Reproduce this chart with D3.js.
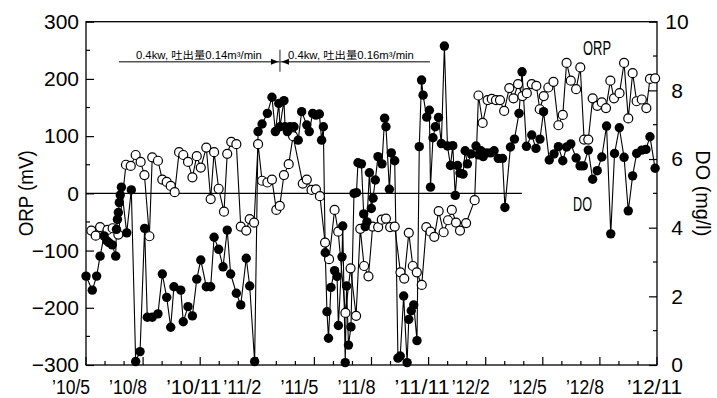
<!DOCTYPE html>
<html><head><meta charset="utf-8">
<script src="https://cdn.jsdelivr.net/npm/d3@7/dist/d3.min.js"></script>
<style>body{margin:0;background:#fff}svg{display:block}</style>
</head><body><svg id="c" width="717" height="398"></svg>
<script>
// ---------- data ----------
const xTickMonths = d3.range(0, 31);               // months since May 2010
const xLabelMonths = [0, 3, 6, 9, 12, 15, 18, 21, 24, 27, 30];
const xLabels = ["’10/5", "’10/8", "’10/11", "’11/2", "’11/5", "’11/8", "’11/11", "’12/2", "’12/5", "’12/8", "’12/11"];
const orpTicks = [-300, -200, -100, 0, 100, 200, 300];
const orpMinorTicks = [-250, -150, -50, 50, 150, 250];
const doTicks = [0, 2, 4, 6, 8, 10];
const doMinorTicks = [1, 3, 5, 7, 9];

const orpMonths = [0.28,0.51,0.74,1.13,1.40,1.70,2.10,2.35,2.61,2.87,3.07,3.33,3.48,3.78,4.01,4.24,4.45,4.66,4.89,5.11,5.36,5.59,5.82,6.03,6.32,6.55,6.73,6.97,7.25,7.42,7.63,7.90,8.13,8.42,8.60,8.83,9.04,9.25,9.53,9.77,10.00,10.18,10.40,10.65,10.88,11.39,11.60,11.85,12.08,12.29,12.56,12.77,13.06,13.25,13.63,13.90,14.19,14.41,14.61,14.84,15.06,15.35,15.54,15.76,15.98,16.22,16.52,16.72,16.96,17.17,17.38,17.64,17.88,18.10,18.30,18.53,18.79,19.02,19.22,19.44,19.65,19.97,20.42,20.62,20.84,21.10,21.32,21.54,21.75,21.97,22.24,22.46,22.70,22.93,23.16,23.42,23.66,23.84,24.05,24.29,24.56,24.82,25.05,25.25,25.47,25.75,25.97,26.17,26.39,26.62,26.86,27.10,27.32,27.55,27.74,28.03,28.27,28.49,28.72,28.93,29.20,29.44,29.63,29.90];
const orpValues = [-65,-74,-59,-64,-61,-72,50,48,67,55,32,-75,63,57,24,20,13,2,72,67,55,28,65,45,80,-10,72,8,-32,69,90,86,-58,-65,-45,-51,86,22,19,24,-29,-22,32,51,100,17,24,6,7,-5,-86,-115,-29,-67,-209,-131,-214,-62,-127,-145,-58,-59,-46,-44,-59,-58,-138,-149,-69,-127,-138,-160,-59,-67,-76,-31,-68,-47,-29,-51,-65,-52,-12,171,123,163,165,163,163,144,184,166,191,170,175,191,188,147,170,185,195,119,137,228,197,182,220,94,94,166,153,159,149,197,166,175,228,131,210,161,164,149,200,201];

const doMonths = [0.00,0.33,0.56,0.74,0.95,1.09,1.21,1.38,1.56,1.60,1.65,1.70,1.75,1.80,1.86,2.14,2.38,2.61,2.84,3.08,3.22,3.48,3.78,4.01,4.24,4.45,4.62,4.98,5.11,5.36,5.59,5.82,6.03,6.32,6.55,6.73,6.97,7.20,7.42,7.60,7.90,8.13,8.42,8.60,8.86,9.04,9.25,9.53,9.77,9.95,10.13,10.19,10.40,10.46,10.58,10.72,10.93,11.15,11.33,11.60,11.73,11.91,12.08,12.26,12.38,12.47,12.57,12.66,12.74,12.87,13.06,13.19,13.26,13.45,13.49,13.62,13.69,13.79,13.92,14.08,14.21,14.29,14.47,14.59,14.67,14.76,14.89,14.99,15.08,15.20,15.34,15.55,15.69,15.76,15.94,16.04,16.22,16.39,16.51,16.69,16.87,16.96,17.09,17.22,17.39,17.51,17.63,17.71,17.90,18.04,18.10,18.23,18.35,18.52,18.67,18.83,18.99,19.15,19.27,19.40,19.52,19.65,19.81,19.92,20.04,20.23,20.49,20.63,20.75,20.87,21.05,21.26,21.44,21.66,21.88,22.01,22.30,22.51,22.75,22.91,23.14,23.42,23.64,23.85,24.04,24.34,24.59,24.82,25.05,25.25,25.47,25.75,25.96,26.13,26.39,26.62,26.86,27.10,27.35,27.57,27.77,28.02,28.27,28.49,28.72,28.93,29.20,29.42,29.63,29.90];
const doValues = [2.59,2.18,2.59,3.17,3.76,3.62,3.56,3.50,3.17,3.95,4.24,4.44,4.73,4.95,5.18,3.85,5.10,0.10,0.39,3.98,1.39,1.39,1.49,2.65,1.97,1.10,2.28,2.18,1.26,1.70,1.43,2.50,3.06,2.28,2.28,3.72,3.37,2.86,3.93,2.65,2.09,1.75,3.11,2.30,0.10,6.80,7.02,7.33,7.80,6.80,7.62,6.94,7.70,6.94,6.80,6.94,6.94,6.55,7.38,6.99,6.80,7.33,7.28,7.31,6.55,6.94,3.27,1.55,0.78,2.26,2.75,2.58,1.15,3.15,4.05,0.07,2.30,0.58,1.11,5.00,5.02,5.89,5.86,4.40,4.03,4.17,5.60,4.56,4.86,5.39,6.07,5.86,7.19,6.94,5.12,6.18,5.95,0.20,0.26,2.01,0.07,1.33,1.58,1.75,0.71,6.36,8.30,7.86,7.22,7.42,5.18,6.62,6.94,7.21,6.45,9.29,6.38,5.81,6.39,4.94,5.81,5.59,5.56,6.24,5.86,6.15,6.38,6.12,6.24,6.07,6.18,6.18,6.24,6.02,6.02,4.59,6.35,6.58,7.33,8.54,6.37,6.70,6.31,6.58,7.38,5.97,6.15,6.36,5.95,6.35,6.44,6.03,5.80,5.80,6.26,5.41,5.66,6.06,6.96,3.82,6.16,6.91,6.05,4.49,5.51,6.16,6.26,6.28,6.65,5.73];

const zeroLineEndMonth = 22.9;
const periodMonths = [1.73, 10.19, 18.07];   // start, change, end of the two pump settings
const periodTexts = ["0.4kw, 吐出量0.14m³/min", "0.4kw, 吐出量0.16m³/min"];
const periodOrp = 230;                        // level of the period line (ORP units)
const seriesNames = ["ORP", "DO"];
const leftTitle = "ORP (mV)";
const rightTitle = "DO (mg/l)";

// ---------- layout ----------
const W = 717, H = 398;
const m = {left: 86, right: 60, top: 21.7, bottom: 33};
const svg = d3.select("#c");
const FONT = "'Liberation Sans', Arial, sans-serif";
const CJK = "'Liberation Sans', 'Noto Sans CJK JP', sans-serif";

const x = d3.scaleLinear().domain([0, 30]).range([m.left, W - m.right]);
const yL = d3.scaleLinear().domain([-300, 300]).range([H - m.bottom, m.top]);
const yR = d3.scaleLinear().domain([0, 10]).range([H - m.bottom, m.top]);

// frame
svg.append("rect").attr("x", m.left).attr("y", m.top)
  .attr("width", W - m.left - m.right).attr("height", H - m.top - m.bottom)
  .attr("fill", "none").attr("stroke", "#000").attr("stroke-width", 1.3);

// left axis
const gL = svg.append("g").attr("transform", `translate(${m.left},0)`);
gL.call(d3.axisLeft(yL).tickValues(orpTicks).tickSizeInner(-8).tickSizeOuter(0).tickPadding(7).tickFormat(d => d === 0 ? "0" : d3.format("d")(d).replace("-", "−")));
gL.select(".domain").remove();
gL.selectAll("text").attr("font-family", FONT).attr("font-size", 21).attr("fill", "#000");
gL.selectAll("line").attr("stroke", "#000").attr("stroke-width", 1.2);
gL.selectAll(".minor").data(orpMinorTicks).join("line").attr("class", "minor")
  .attr("x1", 0).attr("x2", 4).attr("y1", d => yL(d)).attr("y2", d => yL(d))
  .attr("stroke", "#000").attr("stroke-width", 1.2);

// right axis
const gR = svg.append("g").attr("transform", `translate(${W - m.right},0)`);
gR.call(d3.axisRight(yR).tickValues(doTicks).tickSizeInner(-8).tickSizeOuter(0).tickPadding(20));
gR.select(".domain").remove();
gR.selectAll("text").attr("font-family", FONT).attr("font-size", 21).attr("fill", "#000").attr("text-anchor", "middle");
gR.selectAll("line").attr("stroke", "#000").attr("stroke-width", 1.2);
gR.selectAll(".minor").data(doMinorTicks).join("line").attr("class", "minor")
  .attr("x1", 0).attr("x2", -4).attr("y1", d => yR(d)).attr("y2", d => yR(d))
  .attr("stroke", "#000").attr("stroke-width", 1.2);

// bottom ticks (inward)
const gB = svg.append("g");
gB.selectAll("line").data(xTickMonths).join("line")
  .attr("x1", d => x(d)).attr("x2", d => x(d))
  .attr("y1", H - m.bottom).attr("y2", d => H - m.bottom - (d % 3 === 0 ? 8 : 4))
  .attr("stroke", "#000").attr("stroke-width", 1.2);
gB.selectAll("text").data(xLabelMonths).join("text")
  .attr("x", (d, i) => i === xLabels.length - 1 ? x(d) + 25 : x(d) - 34)
  .attr("y", 393.5)
  .attr("text-anchor", (d, i) => i === xLabels.length - 1 ? "end" : "start")
  .attr("font-family", FONT).attr("font-size", 20)
  .attr("textLength", (d, i) => xLabels[i].length > 5 ? 55 : 38)
  .attr("lengthAdjust", "spacingAndGlyphs")
  .text((d, i) => xLabels[i]);

// zero line
svg.append("line").attr("x1", x(0)).attr("x2", x(zeroLineEndMonth))
  .attr("y1", yL(0)).attr("y2", yL(0)).attr("stroke", "#000").attr("stroke-width", 1.2);

// period annotation
const py = yL(periodOrp);
svg.append("line").attr("x1", x(periodMonths[0])).attr("x2", x(periodMonths[2]))
  .attr("y1", py).attr("y2", py).attr("stroke", "#555").attr("stroke-width", 1.3);
svg.append("line").attr("x1", x(periodMonths[1])).attr("x2", x(periodMonths[1]))
  .attr("y1", py - 12).attr("y2", py + 10).attr("stroke", "#555").attr("stroke-width", 1.3);
const px = x(periodMonths[1]);
svg.append("path").attr("d", `M${px - 1.5},${py} L${px - 9},${py - 3} L${px - 9},${py + 3} Z`).attr("fill", "#000");
svg.append("path").attr("d", `M${px + 1.5},${py} L${px + 9},${py - 3} L${px + 9},${py + 3} Z`).attr("fill", "#000");
svg.selectAll(".ptxt").data(periodTexts).join("text").attr("class", "ptxt")
  .attr("x", (d, i) => i === 0 ? x(periodMonths[0]) + 17 : px + 8)
  .attr("y", py - 3)
  .attr("font-family", CJK).attr("font-size", 10)
  .attr("textLength", 126).attr("lengthAdjust", "spacingAndGlyphs")
  .text(d => d);

// series
const orpData = orpMonths.map((d, i) => [d, orpValues[i]]);
const doData = doMonths.map((d, i) => [d, doValues[i]]);
const lineL = d3.line().x(d => x(d[0])).y(d => yL(d[1]));
const lineR = d3.line().x(d => x(d[0])).y(d => yR(d[1]));
svg.append("path").datum(orpData).attr("d", lineL).attr("fill", "none").attr("stroke", "#000").attr("stroke-width", 1.1);
svg.append("path").datum(doData).attr("d", lineR).attr("fill", "none").attr("stroke", "#000").attr("stroke-width", 1.1);
svg.append("g").selectAll("circle").data(orpData).join("circle")
  .attr("cx", d => x(d[0])).attr("cy", d => yL(d[1])).attr("r", 4.5)
  .attr("fill", "#fff").attr("stroke", "#000").attr("stroke-width", 1.2);
svg.append("g").selectAll("circle").data(doData).join("circle")
  .attr("cx", d => x(d[0])).attr("cy", d => yR(d[1])).attr("r", 4.7)
  .attr("fill", "#000");

// series labels
svg.append("text").attr("x", 583).attr("y", 55).attr("font-family", FONT).attr("font-size", 20)
  .attr("textLength", 28).attr("lengthAdjust", "spacingAndGlyphs").text(seriesNames[0]);
svg.append("text").attr("x", 573).attr("y", 211).attr("font-family", FONT).attr("font-size", 20)
  .attr("textLength", 19).attr("lengthAdjust", "spacingAndGlyphs").text(seriesNames[1]);

// axis titles
svg.append("text").attr("transform", `translate(33,${yL(0)}) rotate(-90)`)
  .attr("text-anchor", "middle").attr("font-family", FONT).attr("font-size", 21)
  .attr("textLength", 86).attr("lengthAdjust", "spacingAndGlyphs").text(leftTitle);
svg.append("text").attr("transform", `translate(696,${yR(5)}) rotate(90)`)
  .attr("text-anchor", "middle").attr("font-family", FONT).attr("font-size", 20)
  .attr("textLength", 86).attr("lengthAdjust", "spacingAndGlyphs").text(rightTitle);
</script></body></html>
